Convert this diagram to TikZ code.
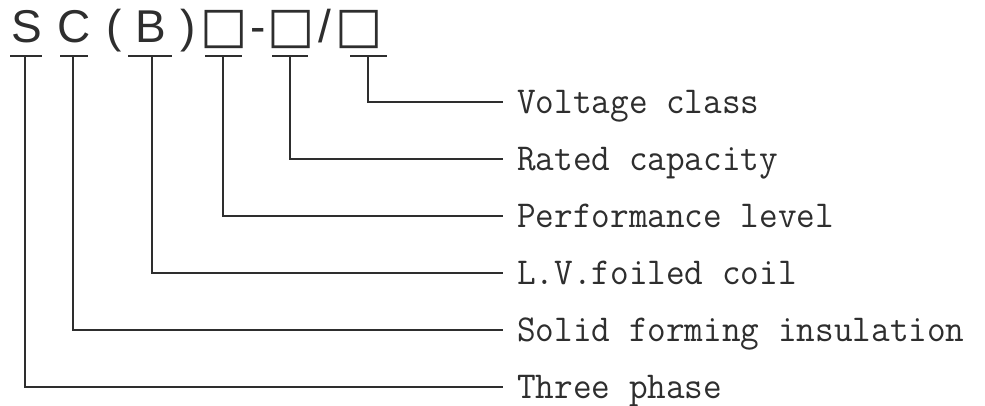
\documentclass[tikz,border=0pt]{standalone}
\usepackage{fontspec}
\setmainfont{Liberation Sans}
\newfontfamily\symfont{DejaVu Sans}
\definecolor{ink}{HTML}{2E2E2E}
\tikzset{
  code/.style={inner sep=0pt, anchor=base, text=ink, font=\fontsize{46}{46}\selectfont},
  box/.style={inner sep=0pt, anchor=base, text=ink, font=\symfont\fontsize{50}{50}\selectfont},
  lab/.style={inner sep=0pt, anchor=base west, text=ink, font=\ttfamily\fontsize{36.2}{36}\selectfont},
  wire/.style={draw=ink, line width=1.8pt},
}
\newcommand{\tallt}[1]{\scalebox{1}[1.05]{#1}}
\begin{document}
\begin{tikzpicture}[x=1pt,y=-1pt]
\useasboundingbox (0,0) rectangle (985,406);
% code characters
\node[code] (S) at (26.5,43) {S};
\node[code] (C) at (74,43) {C};
\node[code] (lp) at (114,43) {(};
\node[code] (B) at (151,43) {B};
\node[code] (rp) at (188,43) {)};
\node[box] (b1) at (224.5,43) {□};
\node[code] (dash) at (258.5,43) {-};
\node[box] (b2) at (291.5,43) {□};
\node[code] (sl) at (325,43) {/};
\node[box] (b3) at (359.5,43) {□};
% underline ends and ticks
\coordinate (uS1) at (10,56); \coordinate (uS2) at (42,56); \coordinate (tS) at (25,56);
\coordinate (uC1) at (60,56); \coordinate (uC2) at (88,56); \coordinate (tC) at (73,56);
\coordinate (uB1) at (128,56); \coordinate (uB2) at (172,56); \coordinate (tB) at (152,56);
\coordinate (u11) at (205,56); \coordinate (u12) at (242,56); \coordinate (t1) at (223,56);
\coordinate (u21) at (272,56); \coordinate (u22) at (308,56); \coordinate (t2) at (290,56);
\coordinate (u31) at (350,56); \coordinate (u32) at (387,56); \coordinate (t3) at (368,56);
% line ends
\coordinate (e1) at (503,102);
\coordinate (e2) at (503,159);
\coordinate (e3) at (503,216);
\coordinate (e4) at (503,273);
\coordinate (e5) at (503,330);
\coordinate (e6) at (503,387);
% labels
\node[lab] (L1) at ([shift={(14pt,-11.5pt)}]e1) {\tallt{Voltage class}};
\node[lab] (L2) at ([shift={(14pt,-11.5pt)}]e2) {\tallt{Rated capacity}};
\node[lab] (L3) at ([shift={(14pt,-11.5pt)}]e3) {\tallt{Performance level}};
\node[lab] (L4) at ([shift={(14pt,-11.5pt)}]e4) {\tallt{L.V.foiled coil}};
\node[lab] (L5) at ([shift={(14pt,-11.5pt)}]e5) {\tallt{Solid forming insulation}};
\node[lab] (L6) at ([shift={(14pt,-11.5pt)}]e6) {\tallt{Three phase}};
% underlines
\draw[wire] (uS1) -- (uS2);
\draw[wire] (uC1) -- (uC2);
\draw[wire] (uB1) -- (uB2);
\draw[wire] (u11) -- (u12);
\draw[wire] (u21) -- (u22);
\draw[wire] (u31) -- (u32);
% connectors
\draw[wire] (t3) |- (e1);
\draw[wire] (t2) |- (e2);
\draw[wire] (t1) |- (e3);
\draw[wire] (tB) |- (e4);
\draw[wire] (tC) |- (e5);
\draw[wire] (tS) |- (e6);
\end{tikzpicture}
\end{document}
